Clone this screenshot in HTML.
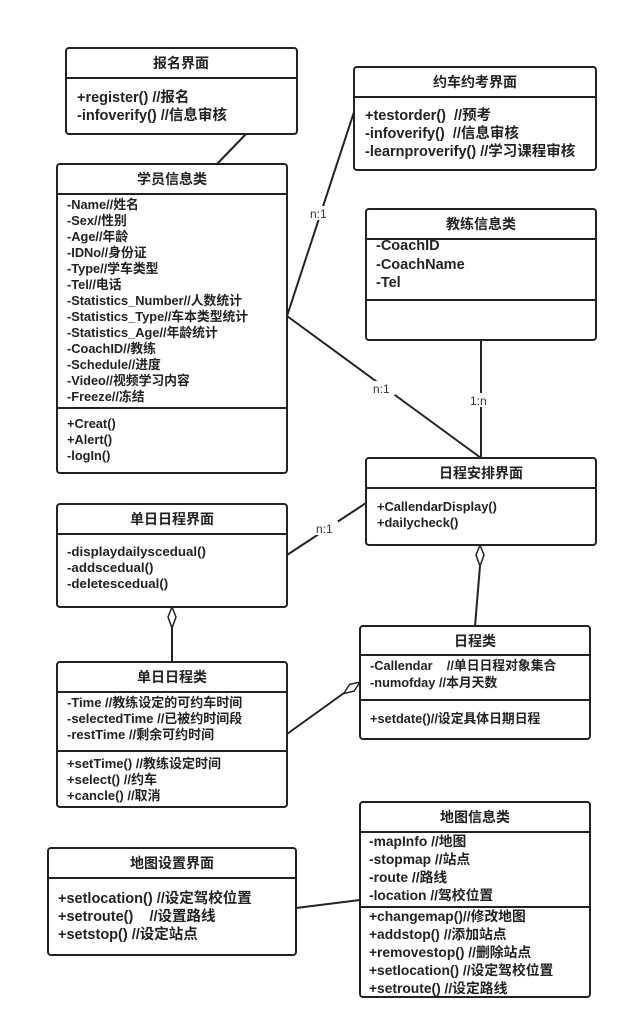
<!DOCTYPE html>
<html><head><meta charset="utf-8"><style>
body{margin:0;background:#fff}
svg{font-size:12.5px}
svg text{font-family:"Liberation Sans","Noto Sans CJK SC",sans-serif;fill:#222;font-weight:bold;white-space:pre}
.t{text-anchor:middle;font-size:14px}
.l{font-weight:normal;font-size:12px;fill:#333}
</style></head><body>
<svg width="628" height="1029" xmlns="http://www.w3.org/2000/svg">
<g fill="none" stroke="#222" stroke-width="2">
<line x1="246" y1="134" x2="217" y2="164"/>
<line x1="287" y1="316" x2="354" y2="112"/>
<line x1="287" y1="316" x2="481" y2="458"/>
<line x1="481" y1="340" x2="481" y2="458"/>
<line x1="287" y1="555" x2="366" y2="503"/>
<line x1="480" y1="566" x2="475" y2="626"/>
<line x1="172" y1="628" x2="172" y2="662"/>
<line x1="287" y1="734" x2="344" y2="693"/>
<line x1="296" y1="908" x2="360" y2="900"/>
</g>
<g fill="#fff" stroke="#222" stroke-width="1.5">
<path d="M480,545 L484,555 L480,566 L476,555 Z"/>
<path d="M172,607 L176,617 L172,628 L168,617 Z"/>
<path d="M360,682 L354.1,691.1 L343.7,693.6 L349.5,684.5 Z"/>
</g>
<g fill="#fff" stroke="#222" stroke-width="2">
<rect x="66" y="48" width="231" height="86" rx="3"/>
<rect x="57" y="164" width="230" height="309" rx="3"/>
<rect x="354" y="67" width="242" height="103" rx="3"/>
<rect x="366" y="209" width="230" height="131" rx="3"/>
<rect x="366" y="458" width="230" height="87" rx="3"/>
<rect x="57" y="504" width="230" height="103" rx="3"/>
<rect x="57" y="662" width="230" height="145" rx="3"/>
<rect x="360" y="626" width="230" height="113" rx="3"/>
<rect x="48" y="848" width="248" height="107" rx="3"/>
<rect x="360" y="802" width="230" height="195" rx="3"/>
</g>
<g stroke="#222" stroke-width="2">
<line x1="66" y1="78" x2="297" y2="78"/>
<line x1="57" y1="194" x2="287" y2="194"/>
<line x1="57" y1="408" x2="287" y2="408"/>
<line x1="354" y1="97" x2="596" y2="97"/>
<line x1="366" y1="239" x2="596" y2="239"/>
<line x1="366" y1="300" x2="596" y2="300"/>
<line x1="366" y1="488" x2="596" y2="488"/>
<line x1="57" y1="534" x2="287" y2="534"/>
<line x1="57" y1="692" x2="287" y2="692"/>
<line x1="57" y1="751" x2="287" y2="751"/>
<line x1="360" y1="655" x2="590" y2="655"/>
<line x1="360" y1="700" x2="590" y2="700"/>
<line x1="48" y1="878" x2="296" y2="878"/>
<line x1="360" y1="832" x2="590" y2="832"/>
<line x1="360" y1="907" x2="590" y2="907"/>
</g>
<g fill="#fff"><rect x="308" y="206" width="24" height="14"/><rect x="371" y="381" width="24" height="14"/><rect x="469" y="393" width="24" height="14"/><rect x="314" y="521" width="24" height="14"/></g>
<text class="l" x="310" y="218">n:1</text>
<text class="l" x="373" y="393">n:1</text>
<text class="l" x="470" y="405">1:n</text>
<text class="l" x="316" y="533">n:1</text>

<text class="t" x="181" y="68">报名界面</text>
<g font-size="14.5">
<text x="77" y="102">+register() //报名</text>
<text x="77" y="120">-infoverify() //信息审核</text>
</g>

<text class="t" x="172" y="184">学员信息类</text>
<g font-size="12.8">
<text x="67" y="209">-Name//姓名</text>
<text x="67" y="225">-Sex//性别</text>
<text x="67" y="241">-Age//年龄</text>
<text x="67" y="257">-IDNo//身份证</text>
<text x="67" y="273">-Type//学车类型</text>
<text x="67" y="289">-Tel//电话</text>
<text x="67" y="305">-Statistics_Number//人数统计</text>
<text x="67" y="321">-Statistics_Type//车本类型统计</text>
<text x="67" y="337">-Statistics_Age//年龄统计</text>
<text x="67" y="353">-CoachID//教练</text>
<text x="67" y="369">-Schedule//进度</text>
<text x="67" y="385">-Video//视频学习内容</text>
<text x="67" y="401">-Freeze//冻结</text>
<text x="67" y="428">+Creat()</text>
<text x="67" y="444">+Alert()</text>
<text x="67" y="460">-logIn()</text>
</g>

<text class="t" x="475" y="87">约车约考界面</text>
<g font-size="14.5">
<text x="365" y="120">+testorder()  //预考</text>
<text x="365" y="138">-infoverify()  //信息审核</text>
<text x="365" y="156">-learnproverify() //学习课程审核</text>
</g>

<text class="t" x="481" y="229">教练信息类</text>
<g font-size="14.5">
<text x="376" y="250">-CoachID</text>
<text x="376" y="269">-CoachName</text>
<text x="376" y="287">-Tel</text>
</g>

<text class="t" x="481" y="478">日程安排界面</text>
<g font-size="12.8">
<text x="377" y="511">+CallendarDisplay()</text>
<text x="377" y="527">+dailycheck()</text>
</g>

<text class="t" x="172" y="524">单日日程界面</text>
<g font-size="13.3">
<text x="67" y="556">-displaydailyscedual()</text>
<text x="67" y="572">-addscedual()</text>
<text x="67" y="588">-deletescedual()</text>
</g>

<text class="t" x="172" y="682">单日日程类</text>
<g font-size="13">
<text x="67" y="707">-Time //教练设定的可约车时间</text>
<text x="67" y="723">-selectedTime //已被约时间段</text>
<text x="67" y="739">-restTime //剩余可约时间</text>
<text x="67" y="768">+setTime() //教练设定时间</text>
<text x="67" y="784">+select() //约车</text>
<text x="67" y="800">+cancle() //取消</text>
</g>

<text class="t" x="475" y="646">日程类</text>
<g font-size="12.8">
<text x="370" y="670">-Callendar    //单日日程对象集合</text>
<text x="370" y="687">-numofday //本月天数</text>
<text x="370" y="723">+setdate()//设定具体日期日程</text>
</g>

<text class="t" x="172" y="868">地图设置界面</text>
<g font-size="14.5">
<text x="58" y="903">+setlocation() //设定驾校位置</text>
<text x="58" y="921">+setroute()    //设置路线</text>
<text x="58" y="939">+setstop() //设定站点</text>
</g>

<text class="t" x="475" y="822">地图信息类</text>
<g font-size="13.8">
<text x="369" y="846">-mapInfo //地图</text>
<text x="369" y="864">-stopmap //站点</text>
<text x="369" y="882">-route //路线</text>
<text x="369" y="900">-location //驾校位置</text>
<text x="369" y="921">+changemap()//修改地图</text>
<text x="369" y="939">+addstop() //添加站点</text>
<text x="369" y="957">+removestop() //删除站点</text>
<text x="369" y="975">+setlocation() //设定驾校位置</text>
<text x="369" y="993">+setroute() //设定路线</text>
</g>
</svg>
</body></html>
